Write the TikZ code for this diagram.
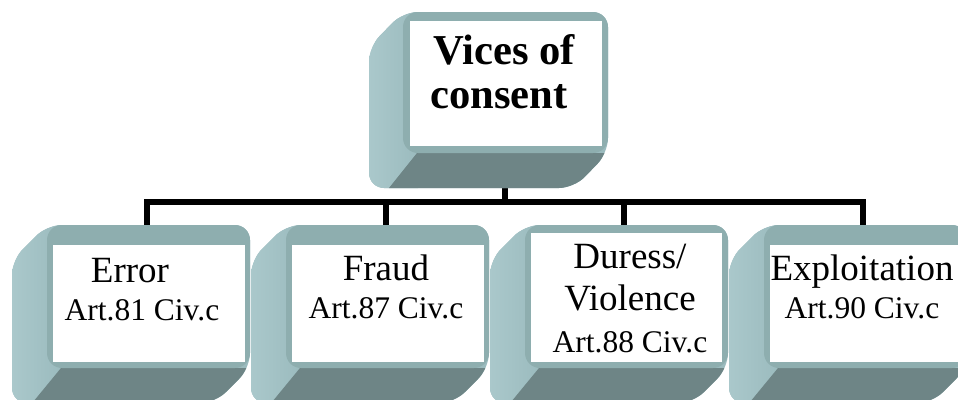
\documentclass[tikz,border=0pt]{standalone}
\usepackage{fontspec}
\setmainfont{Liberation Serif}
\usetikzlibrary{calc}
\definecolor{bevtop}{HTML}{8EAEAF}
\definecolor{bevside}{HTML}{9BBBBE}
\definecolor{bevlight}{HTML}{AAC8CB}
\definecolor{bevbottom}{HTML}{6E8586}
% extruded box: back face (#1,#2)--(#3,#4), pushed by (#5,#6)
\def\bevelbox(#1,#2)(#3,#4)(#5,#6){%
  \begin{scope}
    \clip[rounded corners=15pt] (#1,#2) -- (#3,#2) -- (#3,#4) -- ($(#3,#4)+(#5,#6)$)
      -- ($(#1,#4)+(#5,#6)$) -- ($(#1,#2)+(#5,#6)$) -- cycle;
    \fill[bevside] ($(#1,#2)+(#5,-20)$) rectangle ($(#3,#4)+(20,#6)+(0,20)$);
    \shade[left color=bevlight, right color=bevside] ($(#1,#2)+(#5,0)$) rectangle ($(#1,#4)+(15,#6)$);
    \fill[bevbottom] ($(#1,#4)+(14,0)$) -- ($(#3,#4)+(40,0)$) -- ($(#3,#4)+(40,#6)+(0,20)$)
      -- ($(#1,#4)+(#5,#6)+(12,10)$) -- cycle;
  \end{scope}
  \fill[bevtop, rounded corners=15pt] (#1,#2) rectangle (#3,#4);
}
\tikzset{
  treeline/.style={line width=6pt, black},
  vicestext/.style={align=center, anchor=base, font=\fontsize{42.6}{44}\selectfont\bfseries},
  casetext/.style={align=center, anchor=base, font=\fontsize{37}{38}\selectfont},
}
\newcommand{\artline}[1]{{\fontsize{31.5}{38}\selectfont #1}}

\begin{document}
\begin{tikzpicture}[x=1pt,y=-1pt]
  \useasboundingbox (0,0) rectangle (958,399);
  \clip (0,0) rectangle (958,399);
  %%%%% CONNECTORS %%%%%
  \coordinate (vicesfoot) at (505,188);
  \coordinate (busline) at (0,202);
  \coordinate (errorhead) at (147,225);
  \coordinate (fraudhead) at (386,225);
  \coordinate (duresshead) at (624,225);
  \coordinate (exploithead) at (863,225);
  \draw[treeline] (vicesfoot) -- (vicesfoot |- busline) -| (errorhead);
  \draw[treeline] (vicesfoot) -- (vicesfoot |- busline) -| (fraudhead);
  \draw[treeline] (vicesfoot) -- (vicesfoot |- busline) -| (duresshead);
  \draw[treeline] (vicesfoot) -- (vicesfoot |- busline) -| (exploithead);

  %%%%% BOXES %%%%%
  \bevelbox(403,12)(608,153)(-34,35);
  \fill[white] (410,21) rectangle (602,146);

  \bevelbox(47,225)(250,368)(-35,35);
  \fill[white] (53,245) rectangle (245,362);

  \bevelbox(286,225)(489,368)(-35,35);
  \fill[white] (292,245) rectangle (484,362);

  \bevelbox(525,225)(728,368)(-35,35);
  \fill[white] (531,233) rectangle (722,362);

  \bevelbox(764,225)(967,368)(-35,35);
  \fill[white] (770,245) rectangle (961,362);

  %%%%% TEXTS %%%%%
  \node[vicestext] (vices) at (504,108) {Vices of\\consent\hspace*{10pt}};
  \node[casetext] (error) at (142,320) {Error\hspace*{24pt}\\\artline{Art.81 Civ.c}};
  \node[casetext] (fraud) at (386,318) {Fraud\\\artline{Art.87 Civ.c}};
  \node[casetext, font=\fontsize{37}{42}\selectfont] (duress) at (630,352) {Duress/\\Violence\\\artline{Art.88 Civ.c}};
  \node[casetext] (exploit) at (862,318) {Exploitation\\\artline{Art.90 Civ.c}};
\end{tikzpicture}
\end{document}
